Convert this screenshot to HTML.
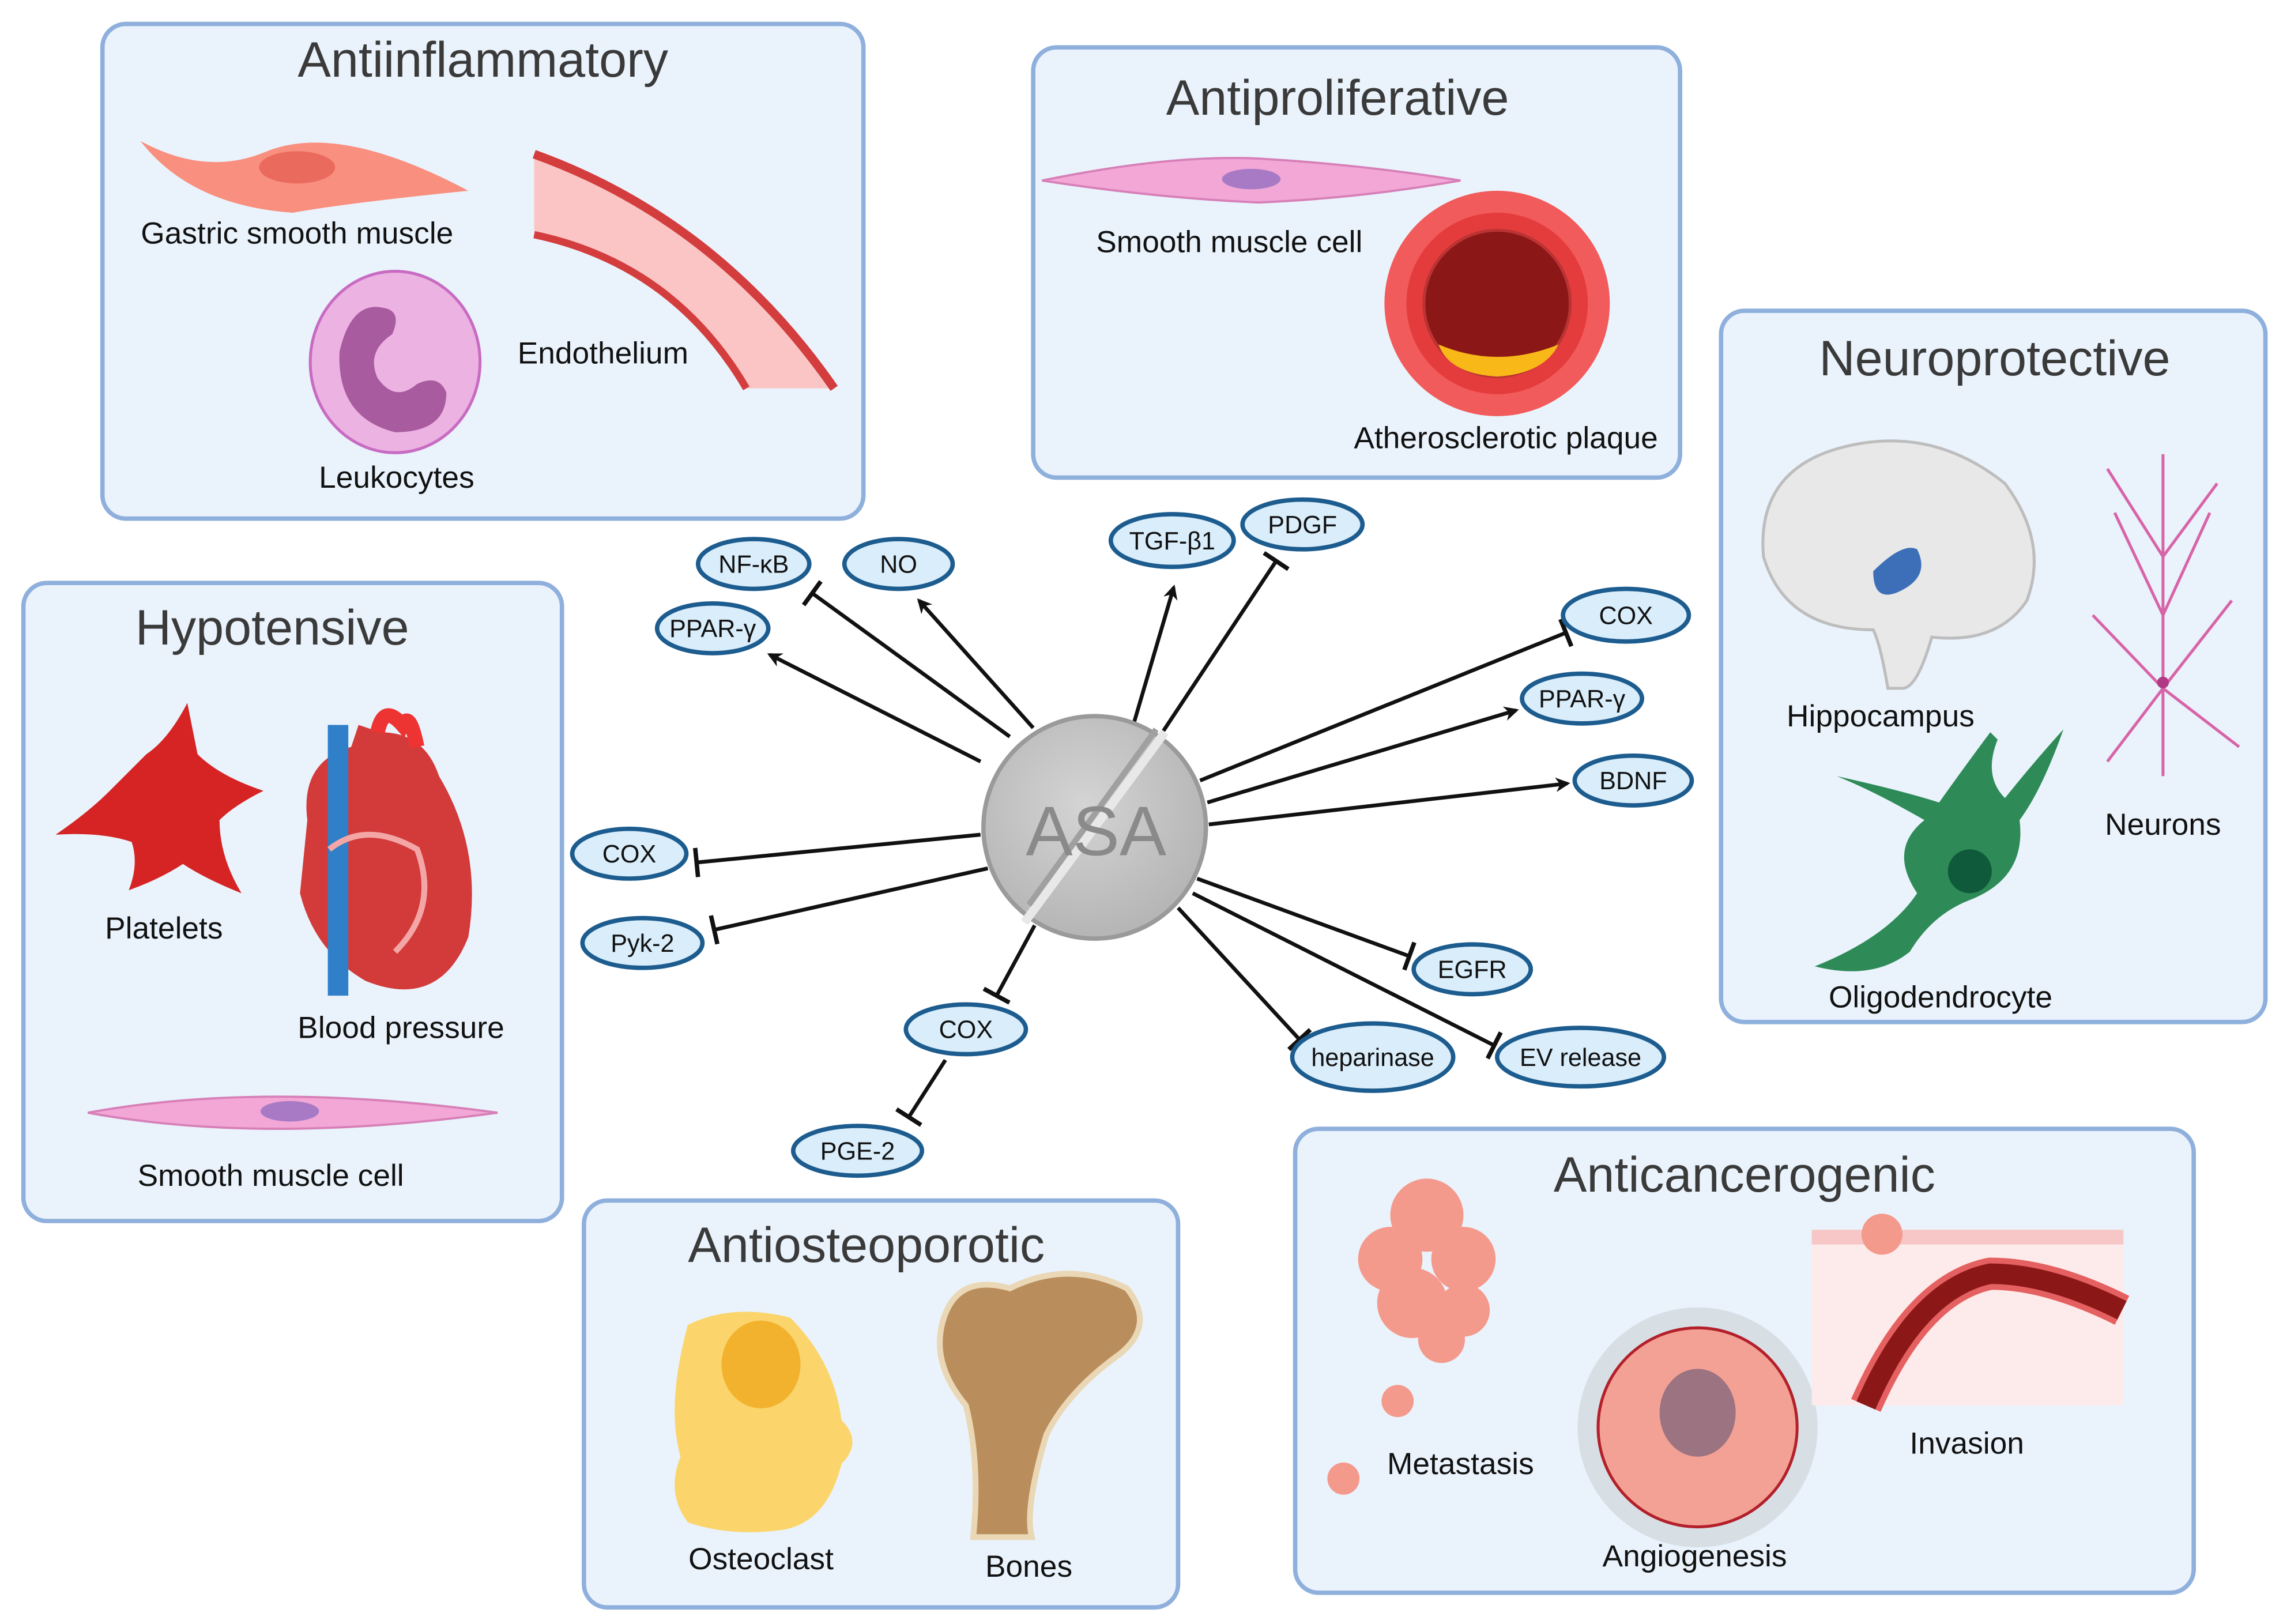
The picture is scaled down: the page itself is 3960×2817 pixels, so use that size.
<!DOCTYPE html>
<html><head><meta charset="utf-8"><style>
html,body{margin:0;padding:0;background:#fff;}
svg{display:block;}
text{font-family:"Liberation Sans",sans-serif;}
</style></head><body>
<svg width="3960" height="2817" viewBox="0 0 1560 1109" xmlns="http://www.w3.org/2000/svg">
<defs>
<marker id="ar" markerWidth="10" markerHeight="10" refX="8" refY="5" orient="auto" markerUnits="userSpaceOnUse">
<path d="M0,0 L10,5 L0,10 L3,5 Z" fill="#111"/></marker>
<marker id="tb" markerWidth="4" markerHeight="20" refX="2" refY="10" orient="auto" markerUnits="userSpaceOnUse">
<rect x="0.5" y="0" width="3" height="20" fill="#111"/></marker>
<radialGradient id="pill" cx="45%" cy="40%" r="60%"><stop offset="0" stop-color="#d4d4d4"/><stop offset="1" stop-color="#b5b5b5"/></radialGradient>
</defs>
<rect width="1560" height="1109" fill="#fff"/>
<g fill="#eaf3fc" stroke="#8fb0dc" stroke-width="3">
<rect x="70" y="16" width="520" height="338" rx="16"/>
<rect x="706" y="32" width="442" height="294" rx="16"/>
<rect x="1176" y="212" width="372" height="486" rx="16"/>
<rect x="16" y="398" width="368" height="436" rx="16"/>
<rect x="399" y="820" width="406" height="278" rx="16"/>
<rect x="885" y="771" width="614" height="317" rx="16"/>
</g>
<g fill="#3a3a3a" font-size="34" text-anchor="middle">
<text x="330" y="52">Antiinflammatory</text>
<text x="914" y="78">Antiproliferative</text>
<text x="1363" y="256">Neuroprotective</text>
<text x="186" y="440">Hypotensive</text>
<text x="592" y="862">Antiosteoporotic</text>
<text x="1192" y="814">Anticancerogenic</text>
</g>
<!-- Antiinflammatory art -->
<path d="M96,96 Q140,120 180,104 Q230,82 320,130 Q240,138 200,145 Q130,140 96,96Z" fill="#f98f7f"/>
<ellipse cx="203" cy="114" rx="26" ry="11" fill="#eb6a5e"/>
<path d="M365,105 Q490,150 570,265 L510,265 Q460,180 365,160Z" fill="#fbc5c5"/>
<path d="M365,105 Q490,150 570,265" fill="none" stroke="#d33d3d" stroke-width="6"/>
<path d="M365,160 Q460,180 510,265" fill="none" stroke="#d33d3d" stroke-width="5"/>
<ellipse cx="270" cy="247" rx="58" ry="62" fill="#ecb2e2" stroke="#c86bc2" stroke-width="2"/>
<path d="M262,210 Q240,205 232,240 Q230,285 270,295 Q305,295 305,268 Q300,255 285,262 Q270,275 258,258 Q250,240 268,228 Q275,212 262,210Z" fill="#a85b9e"/>
<g fill="#111" font-size="21" text-anchor="middle">
<text x="203" y="166">Gastric smooth muscle</text>
<text x="412" y="248">Endothelium</text>
<text x="271" y="333">Leukocytes</text>
</g>
<!-- Antiproliferative art -->
<path d="M712,123 Q800,105 860,108 Q930,112 998,123 Q930,135 860,138 Q790,135 712,123Z" fill="#f2a7d6" stroke="#d77fb8" stroke-width="1.5"/>
<ellipse cx="855" cy="122" rx="20" ry="7" fill="#a87ac6"/>
<circle cx="1023" cy="207" r="77" fill="#f25b5b"/>
<circle cx="1023" cy="207" r="62" fill="#e43c3c"/>
<circle cx="1023" cy="207" r="50" fill="#8c1717" stroke="#b33" stroke-width="2"/>
<path d="M983,235 Q1023,252 1065,235 Q1055,255 1023,257 Q990,255 983,235Z" fill="#f7b818"/>
<g fill="#111" font-size="21" text-anchor="middle">
<text x="840" y="172">Smooth muscle cell</text>
<text x="1029" y="306">Atherosclerotic plaque</text>
</g>
<!-- Neuroprotective art -->
<path d="M1205,380 Q1200,320 1260,305 Q1320,290 1370,330 Q1400,370 1385,410 Q1365,440 1320,435 Q1310,470 1300,470 L1290,470 Q1285,440 1280,430 Q1220,430 1205,380Z" fill="#e8e8e8" stroke="#bdbdbd" stroke-width="2"/>
<path d="M1280,390 Q1300,370 1310,375 Q1320,395 1295,405 Q1280,410 1280,390Z" fill="#3d6fb8"/>
<path d="M1478,310 L1478,530 M1478,470 L1430,420 M1478,470 L1525,410 M1478,420 L1445,350 M1478,420 L1510,350 M1478,470 L1440,520 M1478,470 L1530,510 M1478,380 L1440,320 M1478,380 L1515,330" stroke="#d864a8" stroke-width="2" fill="none"/>
<circle cx="1478" cy="466" r="4" fill="#b03a86"/>
<path d="M1240,660 Q1290,640 1310,610 Q1290,580 1315,560 Q1280,540 1255,530 Q1300,540 1325,548 Q1345,520 1360,500 L1365,505 Q1355,530 1370,545 Q1390,520 1410,498 Q1395,540 1380,560 Q1385,600 1345,615 Q1320,625 1305,650 Q1280,670 1240,660Z" fill="#2e8b57"/>
<circle cx="1346" cy="595" r="15" fill="#0f5a3a"/>
<g fill="#111" font-size="21" text-anchor="middle">
<text x="1285" y="496">Hippocampus</text>
<text x="1478" y="570">Neurons</text>
<text x="1326" y="688">Oligodendrocyte</text>
</g>
<!-- Hypotensive art -->
<path d="M128,480 L135,515 Q150,530 180,540 Q160,550 150,560 Q150,585 165,610 Q140,600 125,590 Q110,600 88,608 Q95,590 90,575 Q70,568 38,570 Q60,555 75,540 Q90,525 100,515 Q115,505 128,480Z" fill="#d62424"/>
<path d="M210,560 Q205,520 240,510 L245,495 L260,500 Q290,500 300,530 Q330,580 320,640 Q300,690 250,670 Q215,650 205,610Z" fill="#d33a3a"/>
<rect x="224" y="495" width="14" height="185" fill="#2f7fc9"/>
<path d="M258,500 Q262,480 275,495 Q280,485 285,510" stroke="#e33" stroke-width="10" fill="none"/>
<path d="M225,580 Q250,560 285,580 Q300,620 270,650" stroke="#f4a6a6" stroke-width="4" fill="none"/>
<path d="M60,760 Q180,738 340,760 Q180,782 60,760Z" fill="#f2a7d6" stroke="#d77fb8" stroke-width="1.5"/>
<ellipse cx="198" cy="759" rx="20" ry="7" fill="#a87ac6"/>
<g fill="#111" font-size="21" text-anchor="middle">
<text x="112" y="641">Platelets</text>
<text x="274" y="709">Blood pressure</text>
<text x="185" y="810">Smooth muscle cell</text>
</g>
<!-- Antiosteoporotic art -->
<path d="M470,905 Q500,890 540,900 Q570,930 575,970 Q590,985 575,1000 Q565,1040 535,1045 Q500,1050 470,1040 Q455,1020 465,995 Q455,960 470,905Z" fill="#fbd56c"/>
<ellipse cx="520" cy="932" rx="27" ry="30" fill="#f2b22e"/>
<path d="M645,900 Q655,870 690,880 Q730,860 770,880 Q790,905 765,925 Q730,950 715,980 Q700,1030 705,1050 L665,1050 Q670,1000 660,960 Q635,930 645,900Z" fill="#b98e5c" stroke="#ead7b5" stroke-width="4"/>
<g fill="#111" font-size="21" text-anchor="middle">
<text x="520" y="1072">Osteoclast</text>
<text x="703" y="1077">Bones</text>
</g>
<!-- Anticancerogenic art -->
<g fill="#f49a8c">
<circle cx="975" cy="830" r="25"/><circle cx="950" cy="860" r="22"/><circle cx="1000" cy="860" r="22"/>
<circle cx="965" cy="890" r="24"/><circle cx="1000" cy="895" r="18"/><circle cx="985" cy="915" r="16"/>
<circle cx="955" cy="957" r="11"/><circle cx="918" cy="1010" r="11"/>
</g>
<circle cx="1160" cy="975" r="82" fill="#cfd5dc" opacity="0.7"/>
<circle cx="1160" cy="975" r="68" fill="#f3a195" stroke="#b3202a" stroke-width="2"/>
<ellipse cx="1160" cy="965" rx="26" ry="30" fill="#9c7380"/>
<rect x="1238" y="840" width="213" height="120" fill="#fdeaea"/>
<rect x="1238" y="840" width="213" height="10" fill="#f7c6c6"/>
<path d="M1275,960 Q1310,880 1360,870 Q1400,870 1450,895" stroke="#e56060" stroke-width="22" fill="none"/>
<path d="M1275,960 Q1310,880 1360,870 Q1400,870 1450,895" stroke="#8c1717" stroke-width="14" fill="none"/>
<circle cx="1286" cy="843" r="14" fill="#f49a8c"/>
<g fill="#111" font-size="21" text-anchor="middle">
<text x="998" y="1007">Metastasis</text>
<text x="1158" y="1070">Angiogenesis</text>
<text x="1344" y="993">Invasion</text>
</g>
<!-- connectors -->
<g stroke="#111" stroke-width="2.6" fill="none">
<line x1="670" y1="520" x2="526" y2="447" marker-end="url(#ar)"/>
<line x1="690" y1="503" x2="555" y2="405" marker-end="url(#tb)"/>
<line x1="706" y1="497" x2="628" y2="410" marker-end="url(#ar)"/>
<line x1="775" y1="493" x2="802" y2="401" marker-end="url(#ar)"/>
<line x1="795" y1="499" x2="872" y2="383" marker-end="url(#tb)"/>
<line x1="820" y1="533" x2="1070" y2="432" marker-end="url(#tb)"/>
<line x1="825" y1="548" x2="1036" y2="485" marker-end="url(#ar)"/>
<line x1="826" y1="563" x2="1071" y2="535" marker-end="url(#ar)"/>
<line x1="670" y1="570" x2="476" y2="589" marker-end="url(#tb)"/>
<line x1="675" y1="593" x2="488" y2="635" marker-end="url(#tb)"/>
<line x1="707" y1="632" x2="681" y2="680" marker-end="url(#tb)"/>
<line x1="646" y1="724" x2="621" y2="763" marker-end="url(#tb)"/>
<line x1="818" y1="600" x2="963" y2="653" marker-end="url(#tb)"/>
<line x1="815" y1="610" x2="1021" y2="714" marker-end="url(#tb)"/>
<line x1="805" y1="620" x2="888" y2="710" marker-end="url(#tb)"/>
</g>
<!-- ASA pill -->
<circle cx="748" cy="565" r="76" fill="url(#pill)" stroke="#9a9a9a" stroke-width="3"/>
<line x1="700" y1="630" x2="796" y2="500" stroke="#e8e8e8" stroke-width="6"/>
<line x1="703" y1="618" x2="790" y2="498" stroke="#a0a0a0" stroke-width="4"/>
<text x="749" y="584" font-size="48" fill="#8a8a8a" text-anchor="middle">ASA</text>
<!-- ellipse nodes -->
<g fill="#d9edfb" stroke="#1d5c8e" stroke-width="3">
<ellipse cx="515" cy="385" rx="38" ry="17"/>
<ellipse cx="614" cy="385" rx="37" ry="17"/>
<ellipse cx="487" cy="429" rx="38" ry="17"/>
<ellipse cx="801" cy="369" rx="42" ry="18"/>
<ellipse cx="890" cy="358" rx="41" ry="17"/>
<ellipse cx="1111" cy="420" rx="43" ry="18"/>
<ellipse cx="1081" cy="477" rx="41" ry="17"/>
<ellipse cx="1116" cy="533" rx="40" ry="17"/>
<ellipse cx="430" cy="583" rx="39" ry="17"/>
<ellipse cx="439" cy="644" rx="41" ry="17"/>
<ellipse cx="660" cy="703" rx="41" ry="17"/>
<ellipse cx="586" cy="786" rx="44" ry="17"/>
<ellipse cx="1006" cy="662" rx="40" ry="17"/>
<ellipse cx="938" cy="722" rx="55" ry="23"/>
<ellipse cx="1080" cy="722" rx="57" ry="20"/>
</g>
<g fill="#111" font-size="17" text-anchor="middle">
<text x="515" y="391">NF-κB</text>
<text x="614" y="391">NO</text>
<text x="487" y="435">PPAR-γ</text>
<text x="801" y="375">TGF-β1</text>
<text x="890" y="364">PDGF</text>
<text x="1111" y="426">COX</text>
<text x="1081" y="483">PPAR-γ</text>
<text x="1116" y="539">BDNF</text>
<text x="430" y="589">COX</text>
<text x="439" y="650">Pyk-2</text>
<text x="660" y="709">COX</text>
<text x="586" y="792">PGE-2</text>
<text x="1006" y="668">EGFR</text>
<text x="938" y="728">heparinase</text>
<text x="1080" y="728">EV release</text>
</g>
</svg>
</body></html>
